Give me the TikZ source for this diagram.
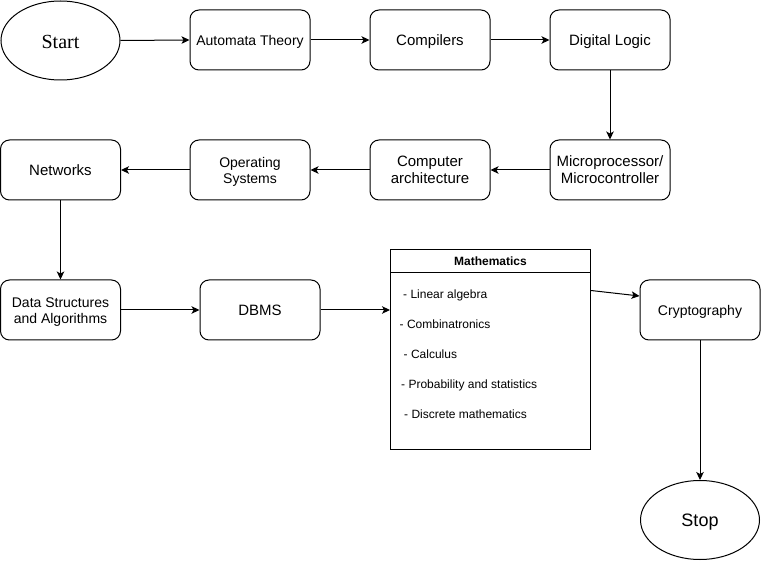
\documentclass[tikz,border=0pt]{standalone}
\usepackage{fontspec}
\setmainfont{Liberation Sans}
\newfontfamily\serifface{Liberation Serif}
\usetikzlibrary{shapes.geometric,arrows.meta}
\tikzset{
  box/.style={draw, rounded corners=9pt, minimum width=120pt, minimum height=60pt, inner sep=0pt, align=center, line width=1pt},
  oval/.style={draw, ellipse, minimum width=119pt, minimum height=79pt, inner sep=0pt, line width=1pt},
  arr/.style={line width=1pt, -{Stealth[length=8pt,width=7.5pt,inset=2pt]}},
  fa/.style={font=\fontsize{14}{16.5}\selectfont, text height=12pt, text depth=1.4pt},
  fb/.style={font=\fontsize{15}{17}\selectfont, text height=12.5pt, text depth=1.1pt},
  faa/.style={font=\fontsize{14}{16.5}\selectfont, text height=28.5pt, text depth=1pt},
  fbb/.style={font=\fontsize{15}{16.6}\selectfont, text height=27.5pt, text depth=0.9pt},
  item/.style={anchor=base west, inner sep=0pt, font=\fontsize{12}{14}\selectfont}
}
\begin{document}
\begin{tikzpicture}[x=1pt,y=-1pt]
\useasboundingbox (0,0) rectangle (761,561);
\node[oval, font=\serifface\fontsize{20}{24}\selectfont, text height=16pt, text depth=0.4pt] (start) at (60.5,40.5) {Start};
\node[box, fa] (auto) at (250,40) {Automata Theory};
\node[box, fb] (comp) at (430,40) {Compilers};
\node[box, fb] (dig) at (610,40) {Digital Logic};
\node[box, fbb] (micro) at (610,170) {Microprocessor/\\Microcontroller};
\node[box, fbb] (arch) at (430,170) {Computer\\architecture};
\node[box, faa] (os) at (250,170) {Operating\\Systems};
\node[box, fb] (net) at (60.5,170) {Networks};
\node[box, faa] (ds) at (60.5,310) {Data Structures\\and Algorithms};
\node[box, fb] (dbms) at (260,310) {DBMS};
\node[draw, line width=1pt, minimum width=200pt, minimum height=200pt, inner sep=0pt] (math) at (490.5,350) {};
\draw[line width=1pt] ([yshift=-23pt]math.north west) coordinate (hl) -- ([yshift=-23pt]math.north east) coordinate (hr);
\node[font=\bfseries\fontsize{12}{14}\selectfont, inner sep=0pt] (mhead) at (490.5,261) {Mathematics};
\node[item] (m1) at (403,299) {- Linear algebra};
\node[item] (m2) at (399.5,329) {- Combinatronics};
\node[item] (m3) at (403.5,359) {- Calculus};
\node[item] (m4) at (401,389) {- Probability and statistics};
\node[item] (m5) at (404,419) {- Discrete mathematics};
\node[box, fa] (crypto) at (700,310) {Cryptography};
\node[oval, font=\fontsize{18}{21}\selectfont, text height=14pt, text depth=2pt] (stop) at (700,520) {Stop};

\draw[arr] (start.east) -- (auto.west);
\draw[arr] (auto.east) -- (comp.west);
\draw[arr] (comp.east) -- (dig.west);
\draw[arr] (dig.south) -- (micro.north);
\draw[arr] (micro.west) -- (arch.east);
\draw[arr] (arch.west) -- (os.east);
\draw[arr] (os.west) -- (net.east);
\draw[arr] (net.south) -- (ds.north);
\draw[arr] (ds.east) -- (dbms.west);
\draw[arr] (dbms.east) -- (dbms.east -| math.west);
\draw[arr] ([yshift=-41pt]math.north east) -- ([yshift=14pt]crypto.west);
\draw[arr] (crypto.south) -- (stop.north);
\end{tikzpicture}
\end{document}
